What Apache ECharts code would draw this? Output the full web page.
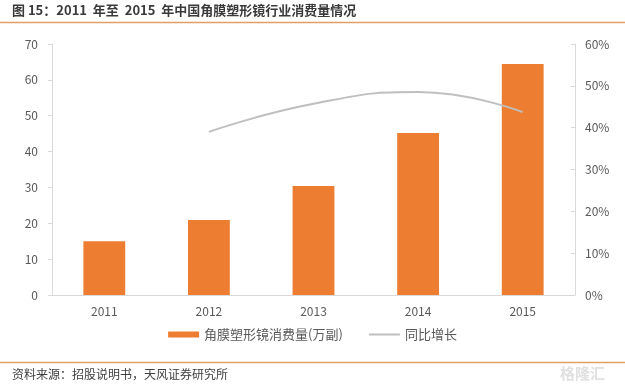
<!DOCTYPE html>
<html>
<head>
<meta charset="utf-8">
<script src="https://cdn.jsdelivr.net/npm/echarts@6/dist/echarts.min.js"></script>
<style>
html,body{margin:0;padding:0;background:#fff;}
#c{width:625px;height:386px;}
</style>
</head>
<body>
<div id="c"></div>
<script>
const categories = ['2011', '2012', '2013', '2014', '2015'];
const consumption = [15.0, 20.9, 30.4, 45.2, 64.4];
const growth = [null, 39.0, 45.7, 48.5, 43.7];
const leftTicks = [0, 70, 10];
const rightTicks = [0, 60, 10];
const titleText = '图 15：2011  年至  2015  年中国角膜塑形镜行业消费量情况';
const sourceText = '资料来源：招股说明书，天风证券研究所';
const barName = '角膜塑形镜消费量(万副)';
const lineName = '同比增长';

const font = '"Noto Sans CJK SC", "Noto Sans", sans-serif';
const chart = echarts.init(document.getElementById('c'));
chart.setOption({
  animation: false,
  backgroundColor: '#fff',
  textStyle: { fontFamily: font },
  graphic: [
    { type: 'text', left: 12, top: 4, style: { text: titleText, font: 'bold 13px ' + font, fill: '#3a3a3a' } },
    { type: 'line', shape: { x1: 0, y1: 22.5, x2: 625, y2: 22.5 }, style: { stroke: '#e0a062', lineWidth: 1.5 } },
    { type: 'line', shape: { x1: 0, y1: 362.5, x2: 625, y2: 362.5 }, style: { stroke: '#e0a062', lineWidth: 1.5 } },
    { type: 'text', left: 12, top: 368, style: { text: sourceText, font: '12px ' + font, fill: '#404040' } },
    { type: 'text', left: 560, top: 366, style: { text: '格隆汇', font: 'bold 15px ' + font, fill: '#e0e0e0' } }
  ],
  legend: {
    bottom: 40,
    left: 'center',
    itemGap: 26,
    itemWidth: 31,
    itemHeight: 6,
    textStyle: { color: '#595959', fontSize: 13 },
    data: [
      { name: barName, icon: 'rect' },
      { name: lineName, icon: 'path://M0,0H31V2H0Z' }
    ]
  },
  grid: { left: 52, right: 50, top: 44, bottom: 91, containLabel: false },
  xAxis: {
    type: 'category',
    data: categories,
    axisLine: { lineStyle: { color: '#d9d9d9' } },
    axisTick: { show: false },
    axisLabel: { color: '#595959', fontSize: 12, margin: 10 }
  },
  yAxis: [
    {
      type: 'value', min: leftTicks[0], max: leftTicks[1], interval: leftTicks[2],
      axisLine: { show: true, lineStyle: { color: '#d9d9d9' } },
      axisTick: { show: true, length: 4, lineStyle: { color: '#d9d9d9' } },
      splitLine: { show: false },
      axisLabel: { color: '#595959', fontSize: 12, margin: 14 }
    },
    {
      type: 'value', min: rightTicks[0], max: rightTicks[1], interval: rightTicks[2],
      position: 'right',
      axisLine: { show: true, lineStyle: { color: '#d9d9d9' } },
      axisTick: { show: true, inside: true, length: 4, lineStyle: { color: '#d9d9d9' } },
      splitLine: { show: false },
      axisLabel: { color: '#595959', fontSize: 12, margin: 10, formatter: '{value}%' }
    }
  ],
  series: [
    {
      name: barName, type: 'bar', data: consumption, barWidth: '40%',
      itemStyle: { color: '#ed7d31' }
    },
    {
      name: lineName, type: 'line', yAxisIndex: 1, data: growth, smooth: 0.5,
      showSymbol: false, symbol: 'none',
      lineStyle: { color: '#bfbfbf', width: 2 },
      itemStyle: { color: '#bfbfbf' }
    }
  ]
});
</script>
</body>
</html>
